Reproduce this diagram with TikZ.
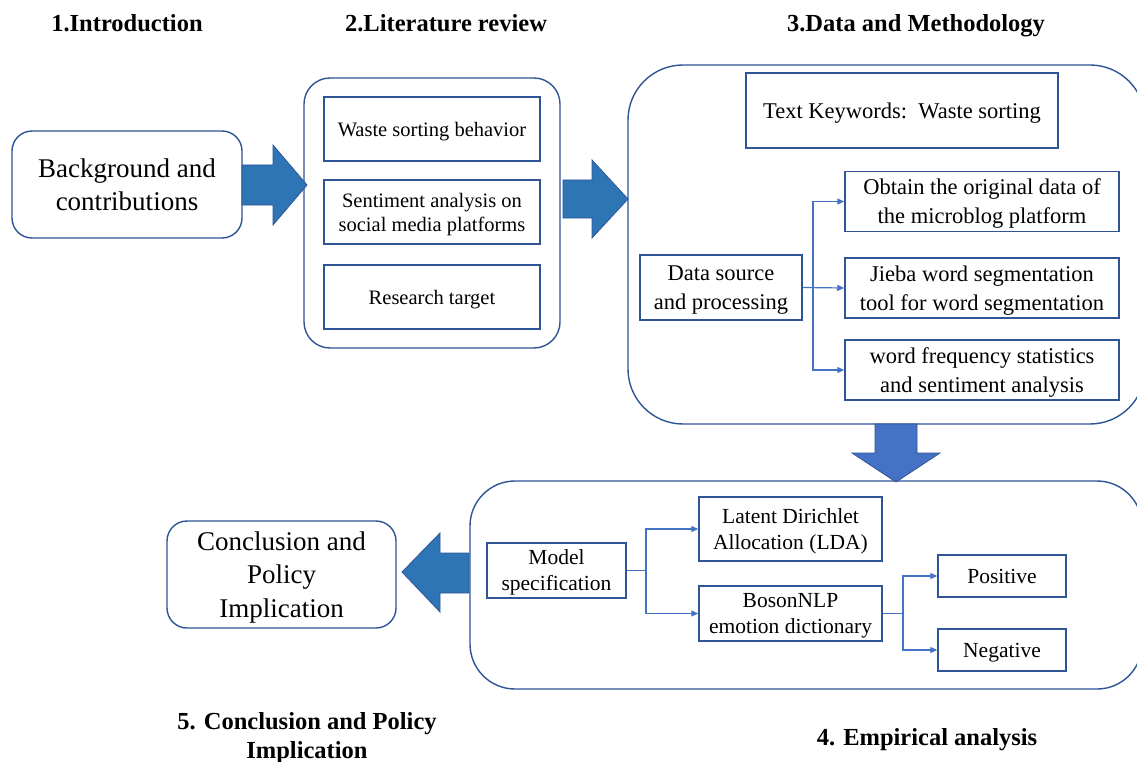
\documentclass[tikz,border=0pt]{standalone}
\usepackage{fontspec}
\setmainfont{Liberation Serif}
\usetikzlibrary{arrows.meta}
\definecolor{edgeblue}{HTML}{2F5597}
\definecolor{connblue}{HTML}{4472C4}
\definecolor{arrowA}{HTML}{2E75B6}
\definecolor{arrowB}{HTML}{4472C4}
\newcommand{\fhead}{\bfseries\fontsize{24.5}{29}\selectfont}
\newcommand{\fbig}{\fontsize{27}{33.5}\selectfont}
\newcommand{\flit}{\fontsize{20.5}{24}\selectfont}
\newcommand{\fdata}{\fontsize{22.5}{29}\selectfont}
\newcommand{\femp}{\fontsize{21.5}{26}\selectfont}
\begin{document}
\begin{tikzpicture}[x=1pt,y=-1pt,
  outerbox/.style={draw=edgeblue, line width=1.4pt, inner sep=0pt, align=center, text depth=0pt},
  innerbox/.style={draw=edgeblue, line width=1.5pt, inner sep=0pt, align=center, text depth=0pt},
  heading/.style={font=\fhead, align=center, inner sep=0pt, text depth=0pt},
  conn/.style={draw=connblue, line width=1.2pt, -{Triangle[length=7pt,width=6pt]}},
  blockarrow/.style={draw=edgeblue, line width=0.8pt, line join=miter}]
\useasboundingbox (0,0) rectangle (1137,762);
\clip (0,0) rectangle (1137,762);
\fill[white] (0,0) rectangle (1137,762);

% headings
\node[heading] (h1) at (127,23) {1.Introduction};
\node[heading] (h2) at (446,23) {2.Literature review};
\node[heading] (h3) at (916,23) {3.Data and Methodology};
\node[heading] (h4) at (927,737) {4. Empirical analysis};
\node[heading] (h5) at (307,735.5) {5. Conclusion and Policy\\Implication};

% 1. Introduction
\node[outerbox, rounded corners=20pt, minimum width=230pt, minimum height=107pt, font=\fbig] (bg) at (127,184.5) {Background and\\contributions};

% 2. Literature review
\node[outerbox, rounded corners=26pt, minimum width=256pt, minimum height=270pt] (lit) at (432,213) {};
\node[innerbox, minimum width=216pt, minimum height=64pt, font=\flit] (ws) at (432,129) {Waste sorting behavior};
\node[innerbox, minimum width=216pt, minimum height=64pt, font=\flit] (sa) at (432,212) {Sentiment analysis on\\social media platforms};
\node[innerbox, minimum width=216pt, minimum height=64pt, font=\flit] (rt) at (432,297) {Research target};

% 3. Data and methodology
\node[outerbox, rounded corners=55pt, minimum width=517pt, minimum height=359pt] (dm) at (886.5,244.5) {};
\node[innerbox, minimum width=312pt, minimum height=75pt, font=\fdata] (tk) at (902,110.5) {Text Keywords:\ \ Waste sorting};
\node[innerbox, minimum width=162pt, minimum height=65pt, font=\fdata] (ds) at (721,287.5) {Data source\\and processing};
\node[innerbox, minimum width=274pt, minimum height=60pt, font=\fdata] (ob) at (982,201.5) {Obtain the original data of\\the microblog platform};
\node[innerbox, minimum width=274pt, minimum height=60pt, font=\fdata] (jb) at (982,288) {Jieba word segmentation\\tool for word segmentation};
\node[innerbox, minimum width=274pt, minimum height=60pt, font=\fdata] (wf) at (982,370) {word frequency statistics\\and sentiment analysis};
\coordinate (dstrunk) at (813,287.5);
\draw[conn] (ds.east) -- (dstrunk) |- (ob.west);
\draw[conn] (ds.east) -- (jb.west);
\draw[conn] (ds.east) -- (dstrunk) |- (wf.west);

% 4. Empirical analysis
\node[outerbox, rounded corners=45pt, minimum width=672pt, minimum height=208pt] (ea) at (806,585) {};
\node[innerbox, minimum width=139pt, minimum height=55pt, font=\femp] (ms) at (556.5,570.5) {Model\\specification};
\node[innerbox, minimum width=183pt, minimum height=64pt, font=\femp] (lda) at (790.5,529) {Latent Dirichlet\\Allocation (LDA)};
\node[innerbox, minimum width=183pt, minimum height=55pt, font=\femp] (bos) at (790.5,613.5) {BosonNLP\\emotion dictionary};
\node[innerbox, minimum width=128pt, minimum height=42pt, font=\femp] (pos) at (1002,576) {Positive};
\node[innerbox, minimum width=128pt, minimum height=42pt, font=\femp] (neg) at (1002,650) {Negative};
\coordinate (mstrunk) at (646,570.5);
\coordinate (bostrunk) at (903,613.5);
\draw[conn] (ms.east) -- (mstrunk) |- (lda.west);
\draw[conn] (ms.east) -- (mstrunk) |- (bos.west);
\draw[conn] (bos.east) -- (bostrunk) |- (pos.west);
\draw[conn] (bos.east) -- (bostrunk) |- (neg.west);

% 5. Conclusion
\node[outerbox, rounded corners=20pt, minimum width=229pt, minimum height=107pt, font=\fbig] (cp) at (281.5,574.5) {Conclusion and\\Policy\\Implication};

% block arrows
\filldraw[blockarrow, fill=arrowA] (242,165) -- (273,165) -- (273,145) -- (307,185) -- (273,225) -- (273,205) -- (242,205) -- cycle;
\filldraw[blockarrow, fill=arrowA] (563,180) -- (592,180) -- (592,160) -- (628,199) -- (592,238) -- (592,218) -- (563,218) -- cycle;
\filldraw[blockarrow, fill=arrowB] (875,424) -- (875,453) -- (852,453) -- (896,482) -- (940,453) -- (917,453) -- (917,424) -- cycle;
\filldraw[blockarrow, fill=arrowA] (469,553) -- (440,553) -- (440,533) -- (402,572) -- (440,612) -- (440,593) -- (469,593) -- cycle;
\end{tikzpicture}
\end{document}
